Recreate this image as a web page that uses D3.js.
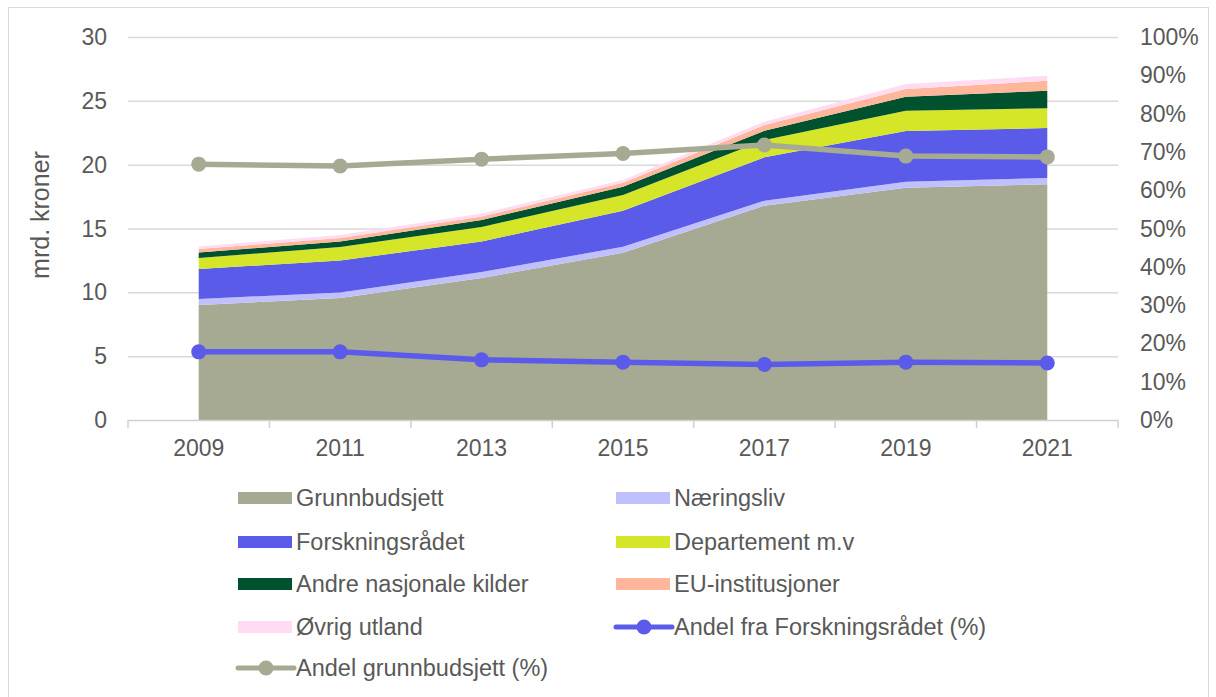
<!DOCTYPE html>
<html>
<head>
<meta charset="utf-8">
<script src="https://cdn.jsdelivr.net/npm/d3@7"></script>
<style>
  body { margin: 0; background: #fff; }
  text { font-family: "Liberation Sans", Arial, sans-serif; fill: #595959; }
</style>
</head>
<body>
<svg id="chart" width="1216" height="697"></svg>
<script>
// years on the x axis
var years = ["2009", "2011", "2013", "2015", "2017", "2019", "2021"];

// stacked sources, mrd. kroner
var grunnbudsjett   = [9.01, 9.56, 11.12, 13.10, 16.79, 18.20, 18.46];
var naeringsliv     = [0.47, 0.43, 0.47, 0.47, 0.39, 0.47, 0.50];
var forskningsradet = [2.35, 2.50, 2.39, 2.82, 3.40, 3.97, 3.91];
var departement     = [0.86, 1.06, 1.14, 1.23, 1.35, 1.59, 1.54];
var andreNasjonale  = [0.43, 0.43, 0.55, 0.65, 0.73, 1.09, 1.38];
var euInstitusjoner = [0.27, 0.28, 0.27, 0.31, 0.45, 0.61, 0.79];
var ovrigUtland     = [0.20, 0.23, 0.23, 0.21, 0.26, 0.39, 0.39];

// shares, percent (right axis)
var andelForsk = [17.8, 17.8, 15.7, 15.1, 14.5, 15.1, 14.9];
var andelGrunn = [66.8, 66.3, 68.1, 69.6, 71.8, 68.9, 68.7];

var leftTicks = [0, 5, 10, 15, 20, 25, 30];
var rightTicks = [0, 10, 20, 30, 40, 50, 60, 70, 80, 90, 100];

var series = [
  { name: "Grunnbudsjett", values: grunnbudsjett, color: "#a7aa92" },
  { name: "Næringsliv", values: naeringsliv, color: "#c0c0fc" },
  { name: "Forskningsrådet", values: forskningsradet, color: "#5b5bea" },
  { name: "Departement m.v", values: departement, color: "#d5e628" },
  { name: "Andre nasjonale kilder", values: andreNasjonale, color: "#00522f" },
  { name: "EU-institusjoner", values: euInstitusjoner, color: "#ffb69a" },
  { name: "Øvrig utland", values: ovrigUtland, color: "#ffdcf2" }
];
var lines = [
  { name: "Andel fra Forskningsrådet (%)", values: andelForsk, color: "#5b5bea" },
  { name: "Andel grunnbudsjett (%)", values: andelGrunn, color: "#a7aa92" }
];

var svg = d3.select("#chart");

// outer frame
svg.append("rect")
  .attr("x", 8.5).attr("y", 7.5)
  .attr("width", 1200).attr("height", 700)
  .attr("fill", "none").attr("stroke", "#d9d9d9");

var plot = { left: 128, right: 1118, top: 37, bottom: 420 };

var xBand = d3.scaleBand().domain(years).range([plot.left, plot.right]);
var x = function(y) { return xBand(y) + xBand.bandwidth() / 2; };
var yLeft = d3.scaleLinear().domain([0, 30]).range([plot.bottom, plot.top]);
var yRight = d3.scaleLinear().domain([0, 100]).range([plot.bottom, plot.top]);

// gridlines
svg.append("g").selectAll("line")
  .data(leftTicks.slice(1))
  .enter().append("line")
  .attr("x1", plot.left).attr("x2", plot.right)
  .attr("y1", function(d) { return yLeft(d) + 0.5; })
  .attr("y2", function(d) { return yLeft(d) + 0.5; })
  .attr("stroke", "#d9d9d9").attr("stroke-width", 1.5);

// stacked areas
var table = years.map(function(yr, i) {
  var row = { year: yr };
  series.forEach(function(s) { row[s.name] = s.values[i]; });
  return row;
});
var stack = d3.stack().keys(series.map(function(s) { return s.name; }));
var stacked = stack(table);

var area = d3.area()
  .x(function(d) { return x(d.data.year); })
  .y0(function(d) { return yLeft(d[0]); })
  .y1(function(d) { return yLeft(d[1]); });

svg.append("g").selectAll("path")
  .data(stacked)
  .enter().append("path")
  .attr("d", area)
  .attr("fill", function(d, i) { return series[i].color; });

// x axis line + ticks between categories
svg.append("line")
  .attr("x1", plot.left).attr("x2", plot.right)
  .attr("y1", plot.bottom + 0.5).attr("y2", plot.bottom + 0.5)
  .attr("stroke", "#d0d0d0").attr("stroke-width", 1.5);
var tickPos = years.map(function(y) { return xBand(y); }).concat([plot.right]);
svg.append("g").selectAll("line")
  .data(tickPos)
  .enter().append("line")
  .attr("x1", function(d) { return d; }).attr("x2", function(d) { return d; })
  .attr("y1", plot.bottom).attr("y2", plot.bottom + 8)
  .attr("stroke", "#d0d0d0").attr("stroke-width", 1.5);

// percentage lines
var line = d3.line()
  .x(function(d, i) { return x(years[i]); })
  .y(function(d) { return yRight(d); });

lines.forEach(function(l) {
  svg.append("path")
    .attr("d", line(l.values))
    .attr("fill", "none")
    .attr("stroke", l.color)
    .attr("stroke-width", 5.5)
    .attr("stroke-linejoin", "round");
  svg.append("g").selectAll("circle")
    .data(l.values)
    .enter().append("circle")
    .attr("cx", function(d, i) { return x(years[i]); })
    .attr("cy", function(d) { return yRight(d); })
    .attr("r", 7.5)
    .attr("fill", l.color);
});

// left tick labels
svg.append("g").selectAll("text")
  .data(leftTicks)
  .enter().append("text")
  .attr("x", 107)
  .attr("y", function(d) { return yLeft(d) + 8; })
  .attr("text-anchor", "end")
  .style("font-size", "23px")
  .text(function(d) { return d; });

// right tick labels
svg.append("g").selectAll("text")
  .data(rightTicks)
  .enter().append("text")
  .attr("x", 1140)
  .attr("y", function(d) { return yRight(d) + 8; })
  .style("font-size", "23px")
  .text(function(d) { return d + "%"; });

// x labels
svg.append("g").selectAll("text")
  .data(years)
  .enter().append("text")
  .attr("x", function(d) { return x(d); })
  .attr("y", 456)
  .attr("text-anchor", "middle")
  .style("font-size", "23px")
  .text(function(d) { return d; });

// y axis title
svg.append("text")
  .attr("transform", "translate(49," + 215 + ") rotate(-90)")
  .attr("text-anchor", "middle")
  .style("font-size", "25px")
  .text("mrd. kroner");

// legend
var legendItems = series.map(function(s) { return { name: s.name, color: s.color, type: "area" }; })
  .concat(lines.map(function(l) { return { name: l.name, color: l.color, type: "line" }; }));
var rowY = [498, 542, 584, 627, 668];
var colX = [238, 616];

legendItems.forEach(function(item, i) {
  var cx = colX[i % 2], cy = rowY[Math.floor(i / 2)];
  var g = svg.append("g");
  if (item.type === "area") {
    g.append("rect")
      .attr("x", cx).attr("y", cy - 6)
      .attr("width", 54).attr("height", 12)
      .attr("fill", item.color);
  } else {
    g.append("line")
      .attr("x1", cx).attr("x2", cx + 56)
      .attr("y1", cy).attr("y2", cy)
      .attr("stroke", item.color).attr("stroke-width", 5)
      .attr("stroke-linecap", "round");
    g.append("circle")
      .attr("cx", cx + 28).attr("cy", cy).attr("r", 7.5)
      .attr("fill", item.color);
  }
  g.append("text")
    .attr("x", cx + 58).attr("y", cy + 8)
    .style("font-size", "23.5px")
    .text(item.name);
});
</script>
</body>
</html>
